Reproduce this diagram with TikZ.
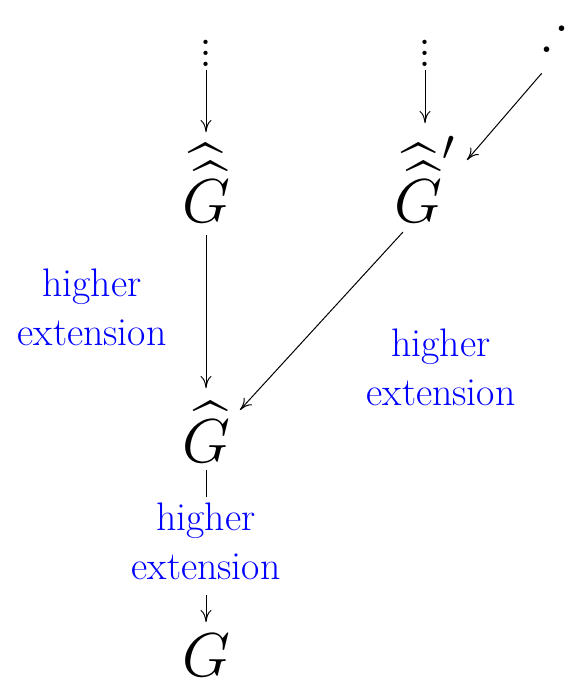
\RequirePackage{fix-cm}
\documentclass[tikz,border=0pt]{standalone}
\usepackage{amsmath}
\DeclareFontShape{OMX}{cmex}{m}{n}{<-7.5>cmex7<7.5-8.5>cmex8<8.5-9.5>cmex9<9.5->cmex10}{}
\usetikzlibrary{arrows.meta,calc}
\newcommand{\myvdots}{\vbox{\baselineskip=5.4pt\lineskiplimit=-20pt\hbox{.}\hbox{.}\hbox{.}}}
\begin{document}
\begin{tikzpicture}[x=0.5pt,y=-0.5pt,
  mathnode/.style={inner sep=0pt, font=\fontsize{31}{37}\selectfont},
  lbl/.style={text=blue, align=center, inner sep=0pt, font=\fontsize{19.9}{24.5}\selectfont},
  arr/.style={-{Computer Modern Rightarrow[length=6pt,width=5.5pt]}, line width=0.5pt},
  dotsnode/.style={inner sep=0pt, font=\fontsize{26}{26}\selectfont}]
\useasboundingbox (0,0) rectangle (574,680);
% nodes
\node[dotsnode, anchor=base] (v1) at (206,66) {\myvdots};
\node[dotsnode, anchor=base] (v2) at (425,66) {\myvdots};
\node[inner sep=0pt, font=\fontsize{34}{34}\selectfont, anchor=base west] (dd) at (537.8,52.9) {.\kern-0.95pt\raisebox{10.5pt}{.}};
\node[mathnode, anchor=base] (G2) at (206,222) {$\widehat{\widehat{G}}$};
\node[mathnode, anchor=base] (Gp) at (425,222) {$\widehat{\widehat{G}}'$};
\node[mathnode, anchor=base] (G1) at (206,462) {$\widehat{G}$};
\node[mathnode, anchor=base] (G0) at (206,676) {$G$};
\node[lbl, anchor=base] (L1) at (92,345) {higher\\extension};
\node[lbl, anchor=base] (L2) at (441,405) {higher\\extension};
% connectors
\draw[arr] ($(v1.base)+(0,4)$) -- ($(G2.base)+(0,-90)$);
\draw[arr] ($(v2.base)+(0,4)$) -- ($(Gp.base)+(0,-99)$);
\draw[arr] ($(dd.base west)+(3.9,20.4)$) -- ($(Gp.base)+(42,-62)$);
\draw[arr] ($(G2.base)+(0,13)$) -- ($(G1.base)+(0,-74)$);
\draw[arr] ($(Gp.base)+(-22,10)$) -- ($(G1.base)+(34,-52)$);
\draw[arr] ($(G1.base)+(0,8)$) -- ($(G0.base)+(0,-54)$)
  node[midway, lbl, fill=white, inner xsep=2pt, inner ysep=3pt] (L3) {higher\\extension\rule[-4.5pt]{0pt}{4.5pt}};
\end{tikzpicture}
\end{document}
